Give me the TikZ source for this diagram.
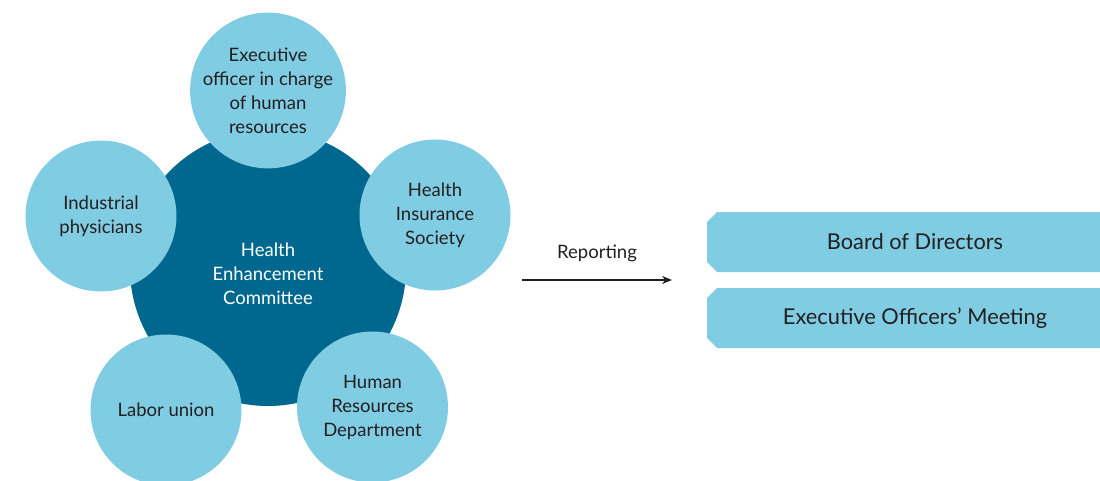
\documentclass[tikz,border=0pt]{standalone}
\usepackage{fontspec}
\usetikzlibrary{arrows.meta}
\setmainfont{Lato}
\definecolor{darkteal}{HTML}{00688E}
\definecolor{lightblue}{HTML}{80CCE3}
\definecolor{txt}{HTML}{231F20}
\begin{document}
\begin{tikzpicture}[x=1pt,y=-1pt,
  member/.style={circle,fill=lightblue,minimum size=151pt,inner sep=0pt,align=center,text=txt,font=\fontsize{18.5}{24}\selectfont},
  core/.style={circle,fill=darkteal,minimum size=276pt,inner sep=0pt},
  coretext/.style={align=center,text=white,font=\fontsize{18.5}{24}\selectfont},
  body/.style={fill=lightblue},
  bodytext/.style={text=txt,font=\fontsize{21.8}{24}\selectfont},
  lbl/.style={text=txt,font=\fontsize{18.5}{20}\selectfont}]
\useasboundingbox (0,0) rectangle (1100,480);
\node[core] (hec) at (268,268) {};
\node[coretext] (hect) at (268,274) {Health\\Enhancement\\Committee};
\node[member] (exec) at (268,90.5) {Executive\\officer in charge\\of human\\resources};
\node[member] (his) at (435,215) {Health\\Insurance\\Society};
\node[member] (hrd) at (372.5,407) {Human\\Resources\\Department};
\node[member] (lab) at (166,410) {Labor union};
\node[member] (ind) at (101,216) {Industrial\\physicians};
% boxes
\fill[body] (707,222) -- (717,212) -- (1100,212) -- (1100,272) -- (717,272) -- (707,262) -- cycle;
\fill[body] (707,298) -- (717,288) -- (1100,288) -- (1100,348) -- (717,348) -- (707,338) -- cycle;
\node[bodytext] (bod) at (915,242) {Board of Directors};
\node[bodytext] (eom) at (915,318) {Executive Officers’ Meeting};
% arrow
\coordinate (as) at (522,280);
\coordinate (ae) at (672,280);
\draw[-{Stealth[length=10pt,width=8pt]},line width=1.2pt,txt] (as) -- (ae);
\node[lbl] (rep) at (597,253) {Reporting};
\end{tikzpicture}
\end{document}
